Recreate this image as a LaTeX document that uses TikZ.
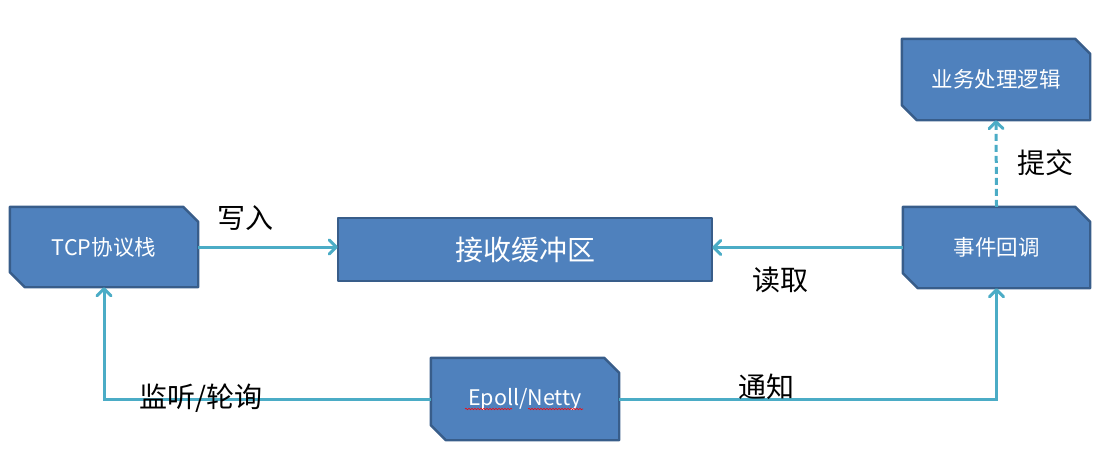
\documentclass[tikz,border=0pt]{standalone}
\usepackage{fontspec}
\setmainfont{Noto Sans CJK SC}
\usetikzlibrary{backgrounds,arrows.meta,decorations.pathmorphing}
\definecolor{boxfill}{HTML}{4F81BD}
\definecolor{boxline}{HTML}{385D8A}
\definecolor{arrowc}{HTML}{4BACC6}
\tikzset{
  box/.style={draw=none, text=white, font=\fontsize{21.5}{25}\selectfont, inner sep=0pt},
  lbl/.style={text=black, font=\fontsize{28}{32}\selectfont, inner sep=0pt},
  conn/.style={draw=arrowc, line width=3pt, -{Straight Barb[length=7pt,width=14pt,line cap=round,line join=round]}},
  shapestyle/.style={fill=boxfill, draw=boxline, line width=2.4pt, line join=round}
}
\newcommand{\snipshape}[1]{%
  \path[shapestyle] (#1.north west) -- ([xshift=-15pt]#1.north east) -- ([yshift=-15pt]#1.north east)
    -- (#1.south east) -- ([xshift=15pt]#1.south west) -- ([yshift=15pt]#1.south west) -- cycle;}
\begin{document}
\begin{tikzpicture}[x=1pt,y=-1pt]
\useasboundingbox (0,0) rectangle (1105,463);
\node[box, minimum width=188pt, minimum height=80pt] (tcp) at (104,247) {TCP协议栈};
\node[box, minimum width=374pt, minimum height=63pt, font=\fontsize{28}{32}\selectfont] (buf) at (525,249.5) {接收缓冲区};
\node[box, minimum width=187pt, minimum height=81pt] (cb) at (996.5,247.5) {事件回调};
\node[box, minimum width=188pt, minimum height=81pt] (biz) at (996,79.5) {业务处理逻辑};
\node[box, minimum width=188pt, minimum height=82pt] (ep) at (525,399) {Epoll/Netty};
\begin{scope}[on background layer]
  \snipshape{tcp}
  \snipshape{cb}
  \snipshape{biz}
  \snipshape{ep}
  \path[shapestyle] (buf.north west) rectangle (buf.south east);
\end{scope}
% spell-check underline
\draw[red, line width=0.6pt, decorate, decoration={snake, amplitude=0.7pt, segment length=3pt}] (465,409) -- (512,409);
\draw[red, line width=0.6pt, decorate, decoration={snake, amplitude=0.7pt, segment length=3pt}] (528,409) -- (583,409);
% connectors
\draw[conn] (tcp.east) -- (buf.west |- tcp.east);
\draw[conn] (cb.west) -- (cb.west -| buf.east);
\draw[conn] (ep.west) -| (tcp.south);
\draw[conn] (ep.east) -| (cb.south);
\draw[conn, dash pattern=on 7pt off 4pt] (cb.north) -- (biz.south);
% labels
\node[lbl] (l1) at (245,218) {写入};
\node[lbl] (l2) at (780,280) {读取};
\node[lbl] (l3) at (1045,163) {提交};
\node[lbl] (l4) at (201,398) {监听/轮询};
\node[lbl] (l5) at (766,387) {通知};
\end{tikzpicture}
\end{document}
